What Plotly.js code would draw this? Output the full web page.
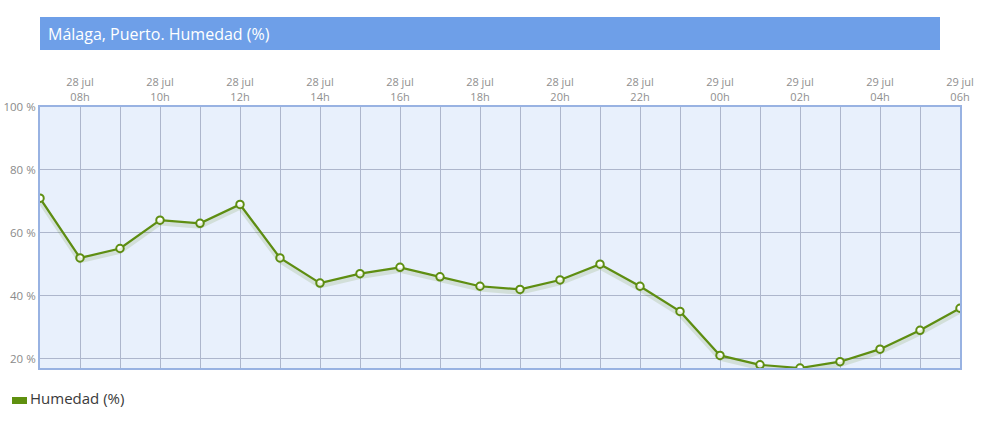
<!DOCTYPE html>
<html>
<head>
<meta charset="utf-8">
<script src="https://cdn.plot.ly/plotly-3.0.1.min.js"></script>
<style>html,body{margin:0;padding:0;background:#fff;}#chart{width:983px;height:436px;}</style>
</head>
<body>
<div id="chart"></div>
<script>
const times = [
  "2024-07-28 07:00","2024-07-28 08:00","2024-07-28 09:00","2024-07-28 10:00",
  "2024-07-28 11:00","2024-07-28 12:00","2024-07-28 13:00","2024-07-28 14:00",
  "2024-07-28 15:00","2024-07-28 16:00","2024-07-28 17:00","2024-07-28 18:00",
  "2024-07-28 19:00","2024-07-28 20:00","2024-07-28 21:00","2024-07-28 22:00",
  "2024-07-28 23:00","2024-07-29 00:00","2024-07-29 01:00","2024-07-29 02:00",
  "2024-07-29 03:00","2024-07-29 04:00","2024-07-29 05:00","2024-07-29 06:00"
];
const humedad = [71,52,55,64,63,69,52,44,47,49,46,43,42,45,50,43,35,21,18,17,19,23,29,36];
const tickLabels = ["","28 jul<br>08h","","28 jul<br>10h","","28 jul<br>12h","","28 jul<br>14h","",
  "28 jul<br>16h","","28 jul<br>18h","","28 jul<br>20h","","28 jul<br>22h","","29 jul<br>00h","",
  "29 jul<br>02h","","29 jul<br>04h","","29 jul<br>06h"];
const yTicks = [20,40,60,80,100];
const yTickLabels = ["20 %","40 %","60 %","80 %","100 %"];
const titleText = "Málaga, Puerto. Humedad (%)";
const seriesName = "Humedad (%)";

const green = "#5f8f12";
const traces = [
  {
    x: times, y: humedad, type: "scatter", mode: "lines",
    line: {color: "rgba(90,130,20,0.15)", width: 5},
    hoverinfo: "skip", showlegend: false, yaxis: "y2", xaxis: "x"
  },
  {
    x: times, y: humedad, type: "scatter", mode: "lines+markers", name: seriesName,
    line: {color: green, width: 2.2},
    marker: {size: 7.5, color: "#ffffff", line: {color: green, width: 2}},
    showlegend: false
  }
];

const plotL = 40, plotR = 960, plotT = 107, plotB = 368;
const pw = plotR - plotL, ph = plotB - plotT;
const px = v => (v - plotL) / pw;
const py = v => (plotB - v) / ph;

const layout = {
  width: 983, height: 436,
  margin: {l: plotL, r: 983 - plotR, t: plotT, b: 436 - plotB},
  paper_bgcolor: "#ffffff",
  plot_bgcolor: "#e8f0fc",
  font: {family: "Open Sans, sans-serif", color: "#888"},
  showlegend: false,
  xaxis: {
    type: "date", side: "top",
    range: [times[0], times[times.length - 1]],
    tickmode: "array", tickvals: times, ticktext: tickLabels,
    tickfont: {size: 11, color: "#8f8f8f"},
    showgrid: true, gridcolor: "#adb6cc", gridwidth: 1,
    showline: true, linecolor: "#98b2e2", linewidth: 2, mirror: true,
    ticks: "", zeroline: false, fixedrange: true
  },
  yaxis: {
    range: [17, 100],
    tickmode: "array", tickvals: yTicks, ticktext: yTickLabels,
    tickfont: {size: 11.5, color: "#8a8a8a"},
    showgrid: true, gridcolor: "#adb6cc", gridwidth: 1,
    showline: true, linecolor: "#98b2e2", linewidth: 2, mirror: true,
    ticks: "", zeroline: false, ticklabelstandoff: 0, fixedrange: true
  },
  yaxis2: {
    range: [17 + 0.9, 100 + 0.9], overlaying: "y", visible: false, fixedrange: true
  },
  shapes: [
    {type: "rect", xref: "paper", yref: "paper",
     x0: px(40), x1: px(940), y0: py(50), y1: py(17),
     fillcolor: "#6e9fe8", line: {width: 0}, layer: "below"},
    {type: "rect", xref: "paper", yref: "paper",
     x0: px(12), x1: px(27), y0: py(404), y1: py(397),
     fillcolor: "#5f900f", line: {width: 0}}
  ],
  annotations: [
    {text: titleText, xref: "paper", yref: "paper", x: px(46), y: py(34),
     xanchor: "left", yanchor: "middle", showarrow: false,
     font: {size: 16, color: "#ffffff", family: "Open Sans, sans-serif"}},
    {text: seriesName, xref: "paper", yref: "paper", x: px(28), y: py(398),
     xanchor: "left", yanchor: "middle", showarrow: false,
     font: {size: 15, color: "#3a3a3a", family: "Open Sans, sans-serif"}}
  ]
};

Plotly.newPlot("chart", traces, layout, {displayModeBar: false, staticPlot: true});
</script>
</body>
</html>
